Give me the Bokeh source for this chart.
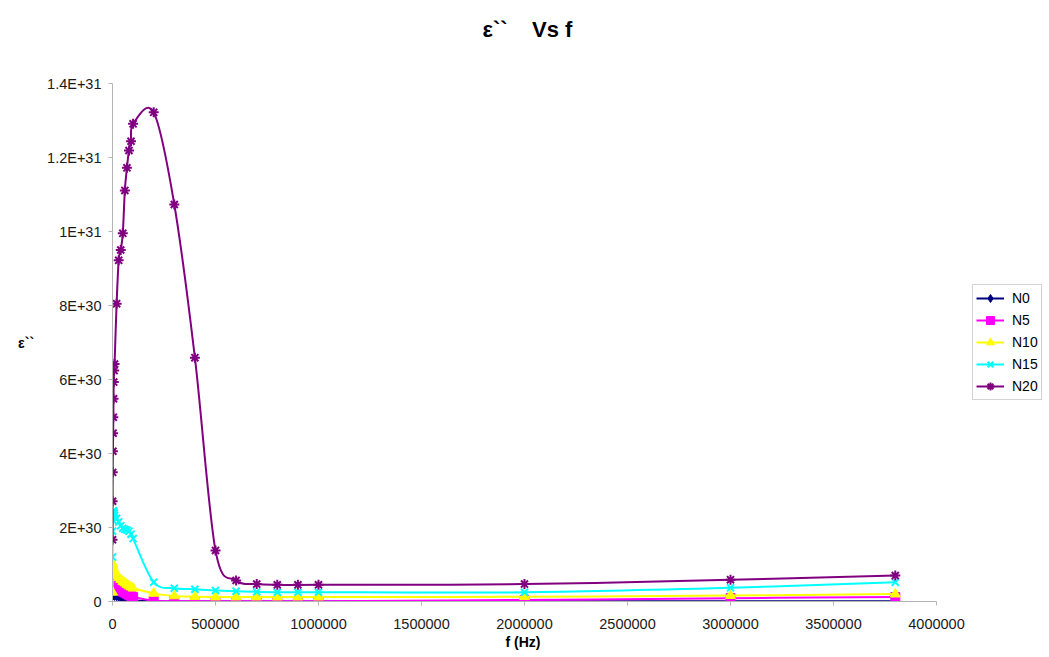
from bokeh.plotting import figure
from bokeh.models import (Range1d, FixedTicker, CustomJSTickFormatter, BasicTickFormatter,
                          Legend, LegendItem, ColumnDataSource, Title)
from bokeh.embed import file_html
from bokeh.resources import INLINE

# ---------------- data ----------------
freq = [100, 500, 1000, 2000, 3000, 4000, 5000, 6000, 8000, 10000,
        20000, 30000, 40000, 50000, 60000, 70000, 80000, 90000, 100000,
        200000, 300000, 400000, 500000, 600000, 700000, 800000, 900000, 1000000,
        2000000, 3000000, 3800000]

UNIT = 1e30  # values below are in units of 1E+30

n0 = [0.35, 0.30, 0.25, 0.22, 0.20, 0.19, 0.18, 0.17, 0.16, 0.15,
      0.14, 0.13, 0.12, 0.10, 0.08, 0.06, 0.05, 0.04, 0.03,
      0.005, 0.003, 0.003, 0.003, 0.003, 0.003, 0.003, 0.003, 0.003,
      0.004, 0.005, 0.006]
n5 = [0.30, 0.42, 0.48, 0.47, 0.46, 0.45, 0.44, 0.43, 0.42, 0.41,
      0.37, 0.33, 0.30, 0.27, 0.24, 0.21, 0.18, 0.15, 0.12,
      0.02, 0.01, 0.01, 0.01, 0.01, 0.01, 0.01, 0.01, 0.01,
      0.04, 0.09, 0.12]
n10 = [0.25, 0.85, 1.02, 0.98, 0.94, 0.90, 0.87, 0.84, 0.80, 0.77,
       0.70, 0.64, 0.59, 0.54, 0.50, 0.46, 0.42, 0.39, 0.36,
       0.22, 0.15, 0.13, 0.12, 0.12, 0.12, 0.12, 0.12, 0.12,
       0.13, 0.16, 0.20]
n15 = [1.20, 1.90, 2.20, 2.35, 2.42, 2.45, 2.44, 2.42, 2.38, 2.33,
       2.25, 2.15, 2.05, 1.98, 1.95, 1.93, 1.90, 1.82, 1.70,
       0.52, 0.36, 0.33, 0.30, 0.28, 0.26, 0.25, 0.25, 0.25,
       0.25, 0.37, 0.52]
n20 = [1.67, 2.71, 3.49, 4.06, 4.55, 4.98, 5.48, 5.93, 6.24, 6.42,
       8.05, 9.22, 9.50, 9.95, 11.11, 11.72, 12.19, 12.44, 12.91,
       13.22, 10.73, 6.59, 1.38, 0.57, 0.47, 0.45, 0.45, 0.45,
       0.47, 0.59, 0.70]

series_names = ["N0", "N5", "N10", "N15", "N20"]
series_values = [n0, n5, n10, n15, n20]
series_colors = ["#000080", "#FF00FF", "#FFFF00", "#00FFFF", "#800080"]
series_markers = ["diamond", "square", "triangle", "x", "asterisk"]

x_ticks = [0, 500000, 1000000, 1500000, 2000000, 2500000, 3000000, 3500000, 4000000]
y_ticks = [0, 2e30, 4e30, 6e30, 8e30, 1e31, 1.2e31, 1.4e31]
X_MAX, Y_MAX = 4000000, 1.4e31

FONT = "Liberation Sans"


def smooth_segments(xs, ys):
    """Cubic Bezier control points (Catmull-Rom style) through the data points."""
    n = len(xs)
    d = dict(x0=[], y0=[], x1=[], y1=[], cx0=[], cy0=[], cx1=[], cy1=[])
    for i in range(n - 1):
        a = max(i - 1, 0)
        b = min(i + 2, n - 1)
        d["x0"].append(xs[i]); d["y0"].append(ys[i])
        d["x1"].append(xs[i + 1]); d["y1"].append(ys[i + 1])
        d["cx0"].append(xs[i] + (xs[i + 1] - xs[a]) / 6.0)
        d["cy0"].append(ys[i] + (ys[i + 1] - ys[a]) / 6.0)
        d["cx1"].append(xs[i + 1] - (xs[b] - xs[i]) / 6.0)
        d["cy1"].append(ys[i + 1] - (ys[b] - ys[i]) / 6.0)
    return d


W, H = 1048, 656
LEFT, TOP, BOTTOM = 112, 83, 601
AXIS_RIGHT = 936             # pixel where the x axis (4000000) ends
FRAME_RIGHT = W - 2          # frame extends past the axis to hold the legend
x_end = X_MAX * (FRAME_RIGHT - LEFT) / (AXIS_RIGHT - LEFT)

p = figure(width=W, height=H, output_backend="svg", toolbar_location=None,
           x_range=Range1d(0, x_end), y_range=Range1d(0, Y_MAX),
           min_border_left=LEFT, min_border_right=W - FRAME_RIGHT, min_border_top=TOP,
           min_border_bottom=H - BOTTOM)

# second (blank) line keeps the visible title high above the plot area
p.title.text = "\u03b5``\u00a0\u00a0\u00a0\u00a0Vs f\n\u00a0"
p.title.align = "left"
p.title.offset = 482 - LEFT
p.title.text_font = FONT
p.title.text_font_size = "22px"
p.title.text_font_style = "bold"
p.title.text_color = "#000000"
p.title.vertical_align = "top"
p.title.standoff = 29

p.xgrid.visible = False
p.ygrid.visible = False
p.outline_line_color = None
p.background_fill_color = "white"
p.border_fill_color = "white"

for ax in (p.xaxis[0], p.yaxis[0]):
    ax.axis_line_color = "#b4b4b4"
    ax.major_tick_line_color = "#b4b4b4"
    ax.major_tick_out = 4
    ax.major_tick_in = 0
    ax.minor_tick_line_color = None
    ax.major_label_text_font = FONT
    ax.major_label_text_font_size = "14.5px"
    ax.major_label_text_color = "#1a1a1a"
    ax.axis_label_text_font = FONT
    ax.axis_label_text_font_size = "14px"
    ax.axis_label_text_font_style = "bold"
    ax.axis_label_text_color = "#000000"

p.xaxis.ticker = FixedTicker(ticks=x_ticks)
p.xaxis.bounds = (0, X_MAX)
p.xaxis.formatter = BasicTickFormatter(use_scientific=False)
p.xaxis.major_label_standoff = 13

# x-axis title, centred under the axis (not under the wider frame)
xlabel = Title(text="f (Hz)", align="left", offset=505 - LEFT, text_font=FONT,
               text_font_size="14px", text_font_style="bold", text_color="#000000",
               vertical_align="top", standoff=4)
p.add_layout(xlabel, "below")

p.yaxis.ticker = FixedTicker(ticks=y_ticks)
p.yaxis.formatter = CustomJSTickFormatter(code="""
if (tick == 0) { return "0"; }
const e = Math.floor(Math.log10(Math.abs(tick)) + 1e-9);
const m = Math.round(tick / Math.pow(10, e) * 10) / 10;
return m + "E+" + e;
""")
p.yaxis.major_label_standoff = 7
p.yaxis.axis_label = "\u03b5``"
p.yaxis.axis_label_orientation = "horizontal"
p.yaxis.axis_label_standoff = 10

items = []
for name, vals, col, mk in zip(series_names, series_values, series_colors, series_markers):
    ys = [v * UNIT for v in vals]
    seg = ColumnDataSource(smooth_segments(freq, ys))
    r_line = p.bezier(x0="x0", y0="y0", x1="x1", y1="y1", cx0="cx0", cy0="cy0",
                      cx1="cx1", cy1="cy1", source=seg, line_color=col, line_width=2)
    pts = ColumnDataSource(dict(x=freq, y=ys))
    if mk in ("x", "asterisk"):
        r_pts = p.scatter(x="x", y="y", source=pts, marker=mk, size=10,
                          line_color=col, line_width=2, fill_color=col)
    else:
        r_pts = p.scatter(x="x", y="y", source=pts, marker=mk, size=9 if mk != "triangle" else 10,
                          line_color=col, fill_color=col, line_width=1)
    items.append(LegendItem(label=name, renderers=[r_line, r_pts]))

legend = Legend(items=items, location=(972 - LEFT, BOTTOM - 400))
legend.label_text_font = FONT
legend.label_text_font_size = "14px"
legend.label_text_color = "#000000"
legend.border_line_color = "#a8a8a8"
legend.border_line_width = 1
legend.padding = 3
legend.spacing = 2
legend.margin = 0
legend.glyph_width = 28
legend.glyph_height = 20
legend.label_height = 20
legend.label_standoff = 8
legend.background_fill_color = "white"
legend.background_fill_alpha = 1
p.add_layout(legend)

open("out.html", "w").write(file_html(p, INLINE))
